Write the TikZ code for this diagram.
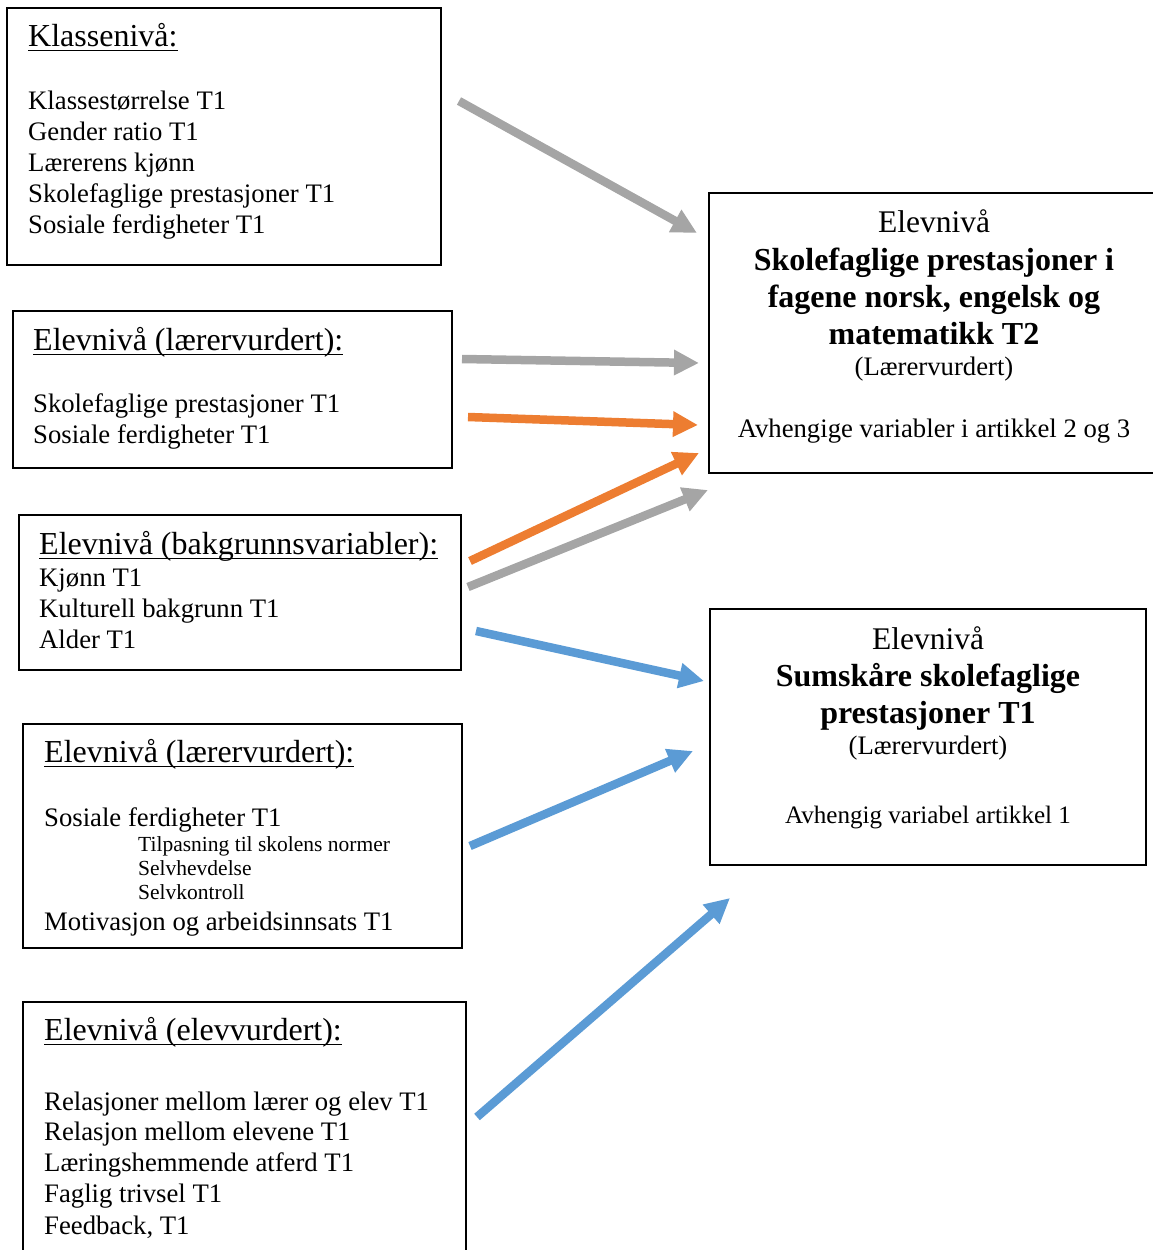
\documentclass[tikz,border=0pt]{standalone}
\usepackage{fontspec}
\setmainfont{Liberation Serif}
\usetikzlibrary{arrows.meta}
\definecolor{agrey}{HTML}{A5A5A5}
\definecolor{aorange}{HTML}{ED7D31}
\definecolor{ablue}{HTML}{5B9BD5}
\begin{document}
\begin{tikzpicture}[x=1pt,y=-1pt,
  box/.style={draw=black,line width=1.6pt,rectangle,inner sep=0pt,outer sep=0pt,anchor=north west},
  ttl/.style={anchor=base west,inner sep=0pt,font=\fontsize{32}{37}\selectfont},
  body/.style={anchor=base west,inner sep=0pt,font=\fontsize{26.7}{31}\selectfont},
  small/.style={anchor=base west,inner sep=0pt,font=\fontsize{21.5}{24}\selectfont},
  cbig/.style={anchor=base,inner sep=0pt,font=\fontsize{31.5}{37}\selectfont},
  cbold/.style={anchor=base,inner sep=0pt,font=\fontsize{32}{37}\selectfont\bfseries},
  cbody/.style={anchor=base,inner sep=0pt,font=\fontsize{26.7}{31}\selectfont},
  cnote/.style={anchor=base,inner sep=0pt,font=\fontsize{25.1}{30}\selectfont},
  uline/.style={line width=1.8pt},
  conn/.style={line width=8.5pt,-{Triangle[length=25pt,width=24pt]}},
  greyarrow/.style={conn,draw=agrey,fill=agrey},
  orangearrow/.style={conn,draw=aorange,fill=aorange},
  bluearrow/.style={conn,draw=ablue,fill=ablue}]
\useasboundingbox (0,0) rectangle (1153,1250);
\clip (0,0) rectangle (1153,1250);

% Left column: predictor boxes
\node[box,minimum width=434pt,minimum height=257pt] (klasse) at (7,8) {};
\node[box,minimum width=439pt,minimum height=157pt] (lv1) at (13,311) {};
\node[box,minimum width=442pt,minimum height=155pt] (bakgr) at (19,515) {};
\node[box,minimum width=439pt,minimum height=224pt] (lv2) at (23,724) {};
\node[box,minimum width=443pt,minimum height=260pt] (elev) at (23,1002) {};

% Right column: outcome boxes
\node[box,minimum width=450pt,minimum height=280pt] (utfall2) at (709,193) {};
\node[box,minimum width=436pt,minimum height=256pt] (utfall1) at (710,609) {};

% Klassenivå
\node[ttl] (klasseT) at (28,46) {Klassenivå:};
\draw[uline] ([yshift=-4.5pt]klasseT.base west) -- ([yshift=-4.5pt]klasseT.base east);
\node[body] (klasse1) at (28,109) {Klassestørrelse T1};
\node[body] (klasse2) at (28,140) {Gender ratio T1};
\node[body] (klasse3) at (28,171) {Lærerens kjønn};
\node[body] (klasse4) at (28,202) {Skolefaglige prestasjoner T1};
\node[body] (klasse5) at (28,233) {Sosiale ferdigheter T1};

% Elevnivå (lærervurdert), first
\node[ttl] (lv1T) at (33,350) {Elevnivå (lærervurdert):};
\draw[uline] ([yshift=-4.5pt]lv1T.base west) -- ([yshift=-4.5pt]lv1T.base east);
\node[body] (lv1a) at (33,412) {Skolefaglige prestasjoner T1};
\node[body] (lv1b) at (33,443) {Sosiale ferdigheter T1};

% Elevnivå (bakgrunnsvariabler)
\node[ttl] (bakgrT) at (39,554) {Elevnivå (bakgrunnsvariabler):};
\draw[uline] ([yshift=-4.5pt]bakgrT.base west) -- ([yshift=-4.5pt]bakgrT.base east);
\node[body] (bakgr1) at (39,586) {Kjønn T1};
\node[body] (bakgr2) at (39,617) {Kulturell bakgrunn T1};
\node[body] (bakgr3) at (39,648) {Alder T1};

% Elevnivå (lærervurdert), second
\node[ttl] (lv2T) at (44,762) {Elevnivå (lærervurdert):};
\draw[uline] ([yshift=-4.5pt]lv2T.base west) -- ([yshift=-4.5pt]lv2T.base east);
\node[body] (lv2a) at (44,826) {Sosiale ferdigheter T1};
\node[small] (lv2s1) at (138,851) {Tilpasning til skolens normer};
\node[small] (lv2s2) at (138,875) {Selvhevdelse};
\node[small] (lv2s3) at (138,899) {Selvkontroll};
\node[body] (lv2b) at (44,930) {Motivasjon og arbeidsinnsats T1};

% Elevnivå (elevvurdert)
\node[ttl] (elevT) at (44,1040) {Elevnivå (elevvurdert):};
\draw[uline] ([yshift=-4.5pt]elevT.base west) -- ([yshift=-4.5pt]elevT.base east);
\node[body] (elev1) at (44,1110) {Relasjoner mellom lærer og elev T1};
\node[body] (elev2) at (44,1140) {Relasjon mellom elevene T1};
\node[body] (elev3) at (44,1171) {Læringshemmende atferd T1};
\node[body] (elev4) at (44,1202) {Faglig trivsel T1};
\node[body] (elev5) at (44,1234) {Feedback, T1};

% Outcome T2
\node[cbig] (u2a) at (934,232) {Elevnivå};
\node[cbold] (u2b) at (934,270) {Skolefaglige prestasjoner i};
\node[cbold] (u2c) at (934,307) {fagene norsk, engelsk og};
\node[cbold] (u2d) at (934,344) {matematikk T2};
\node[cbody] (u2e) at (934,375) {(Lærervurdert)};
\node[cbody] (u2f) at (934,437) {Avhengige variabler i artikkel 2 og 3};

% Outcome T1
\node[cbig] (u1a) at (928,649) {Elevnivå};
\node[cbold] (u1b) at (928,686) {Sumskåre skolefaglige};
\node[cbold] (u1c) at (928,723) {prestasjoner T1};
\node[cbody] (u1d) at (928,754) {(Lærervurdert)};
\node[cnote] (u1e) at (928,823) {Avhengig variabel artikkel 1};

% Arrow end points
\coordinate (g1s) at (459,101);  \coordinate (g1e) at (697,233);
\coordinate (g2s) at (462,359);  \coordinate (g2e) at (699,363);
\coordinate (o1s) at (468,417);  \coordinate (o1e) at (698,425);
\coordinate (o2s) at (470,561);  \coordinate (o2e) at (699,453);
\coordinate (g3s) at (468,587);  \coordinate (g3e) at (708,490);
\coordinate (b1s) at (476,631);  \coordinate (b1e) at (704,681);
\coordinate (b2s) at (470,846);  \coordinate (b2e) at (693,751);
\coordinate (b3s) at (477,1117); \coordinate (b3e) at (730,898);

\draw[greyarrow] (g1s) -- (g1e);
\draw[greyarrow] (g2s) -- (g2e);
\draw[orangearrow] (o1s) -- (o1e);
\draw[orangearrow] (o2s) -- (o2e);
\draw[greyarrow] (g3s) -- (g3e);
\draw[bluearrow] (b1s) -- (b1e);
\draw[bluearrow] (b2s) -- (b2e);
\draw[bluearrow] (b3s) -- (b3e);
\end{tikzpicture}
\end{document}
